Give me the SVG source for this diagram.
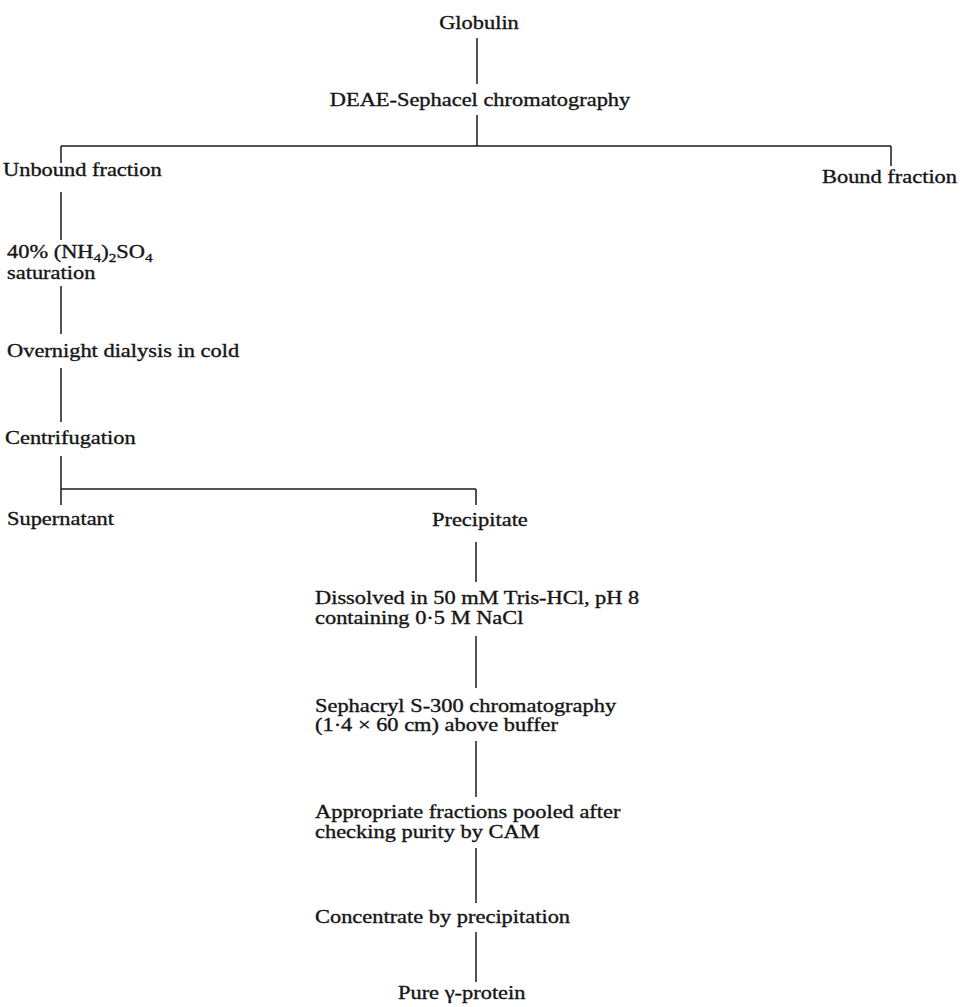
<svg xmlns="http://www.w3.org/2000/svg" width="963" height="1007" viewBox="0 0 963 1007">
<style>
  text { font-family: "Liberation Serif", "Times New Roman", serif; font-size: 19px; fill: #151515; stroke: #151515; stroke-width: 0.35; }
  .mid { text-anchor: middle; }
  .sub { font-size: 13px; }
  .conn line { stroke: #1a1a1a; stroke-width: 1.5; fill: none; stroke-linecap: butt; }
</style>
<rect width="963" height="1007" fill="#ffffff"/>

<g id="connectors" class="conn">
  <line x1="477" y1="38" x2="477" y2="84"/>
  <line x1="477" y1="115" x2="477" y2="146"/>
  <line x1="61" y1="146" x2="891" y2="146"/>
  <line x1="61" y1="146" x2="61" y2="163"/>
  <line x1="891" y1="146" x2="891" y2="166"/>
  <line x1="61" y1="192" x2="61" y2="240"/>
  <line x1="61" y1="286" x2="61" y2="334"/>
  <line x1="61" y1="368" x2="61" y2="422"/>
  <line x1="61" y1="456" x2="61" y2="505"/>
  <line x1="61" y1="489" x2="476" y2="489"/>
  <line x1="476" y1="489" x2="476" y2="505"/>
  <line x1="476" y1="542" x2="476" y2="582"/>
  <line x1="476" y1="636" x2="476" y2="688"/>
  <line x1="476" y1="741" x2="476" y2="797"/>
  <line x1="476" y1="848" x2="476" y2="903"/>
  <line x1="476" y1="932" x2="476" y2="982"/>
</g>

<g id="globulin"><text class="mid" transform="translate(479,29) scale(1.18,1)">Globulin</text></g>
<g id="deae"><text class="mid" transform="translate(480,106) scale(1.18,1)">DEAE-Sephacel chromatography</text></g>
<g id="unbound"><text transform="translate(3,176) scale(1.18,1)">Unbound fraction</text></g>
<g id="bound"><text transform="translate(822,183) scale(1.18,1)">Bound fraction</text></g>
<g id="ammonium">
  <text transform="translate(7,258) scale(1.18,1)">40% (NH<tspan class="sub" dy="4">4</tspan><tspan dy="-4">)</tspan><tspan class="sub" dy="4">2</tspan><tspan dy="-4">SO</tspan><tspan class="sub" dy="4">4</tspan></text>
  <text transform="translate(7,279) scale(1.18,1)">saturation</text>
</g>
<g id="dialysis"><text transform="translate(7,357) scale(1.18,1)">Overnight dialysis in cold</text></g>
<g id="centrifugation"><text transform="translate(5,444) scale(1.18,1)">Centrifugation</text></g>
<g id="supernatant"><text transform="translate(7,525) scale(1.18,1)">Supernatant</text></g>
<g id="precipitate"><text transform="translate(432,526) scale(1.18,1)">Precipitate</text></g>
<g id="dissolved">
  <text transform="translate(315,604) scale(1.18,1)">Dissolved in 50 mM Tris-HCl, pH 8</text>
  <text transform="translate(315,624) scale(1.18,1)">containing 0·5 M NaCl</text>
</g>
<g id="sephacryl">
  <text transform="translate(315,712) scale(1.18,1)">Sephacryl S-300 chromatography</text>
  <text transform="translate(315,731) scale(1.18,1)">(1·4 × 60 cm) above buffer</text>
</g>
<g id="pooled">
  <text transform="translate(315,818) scale(1.18,1)">Appropriate fractions pooled after</text>
  <text transform="translate(315,838) scale(1.18,1)">checking purity by CAM</text>
</g>
<g id="concentrate"><text transform="translate(315,923) scale(1.18,1)">Concentrate by precipitation</text></g>
<g id="pure"><text transform="translate(398,999) scale(1.18,1)">Pure γ-protein</text></g>
</svg>
